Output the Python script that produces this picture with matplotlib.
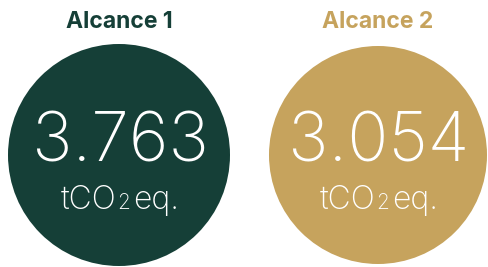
import matplotlib
matplotlib.use("Agg")
import matplotlib.pyplot as plt
from matplotlib.patches import Circle

# data
scopes = ["Alcance 1", "Alcance 2"]
values = [3763, 3054]
colors = ["#153f37", "#c6a35d"]

fig = plt.figure(figsize=(4.88, 2.67), dpi=100)
ax = fig.add_axes([0, 0, 1, 1])
ax.set_xlim(0, 488)
ax.set_ylim(267, 0)
ax.set_aspect("equal")
ax.axis("off")

centers = [119, 378]
cy = 155
radius = [111, 109]

for i, (name, val, col) in enumerate(zip(scopes, values, colors)):
    cx = centers[i]
    ax.add_patch(Circle((cx, cy), radius[i], color=col, lw=0))
    ax.text(cx, 22, name, ha="center", va="center", fontsize=16.5,
            fontweight="bold", color=col, family="Inter")
    txt = f"{val:,}".replace(",", ".")
    ax.text(cx + 1, 161, txt, ha="center", va="baseline", fontsize=49,
            fontweight="light", color="white", family="Inter")
    # unit: tCO + small 2 + eq.
    t1 = ax.text(cx - 58, 209, "tCO", ha="left", va="baseline", fontsize=23,
                 fontweight="light", color="white", family="Inter")
    fig.canvas.draw()
    bb = t1.get_window_extent().transformed(ax.transData.inverted())
    t2 = ax.text(bb.x1 + 0.5, 209, "2", ha="left", va="baseline", fontsize=15,
                 fontweight="light", color="white", family="Inter")
    fig.canvas.draw()
    bb2 = t2.get_window_extent().transformed(ax.transData.inverted())
    ax.text(bb2.x1 + 3, 209, "eq.", ha="left", va="baseline", fontsize=23,
            fontweight="light", color="white", family="Inter")

fig.savefig("out.png", dpi=100)
